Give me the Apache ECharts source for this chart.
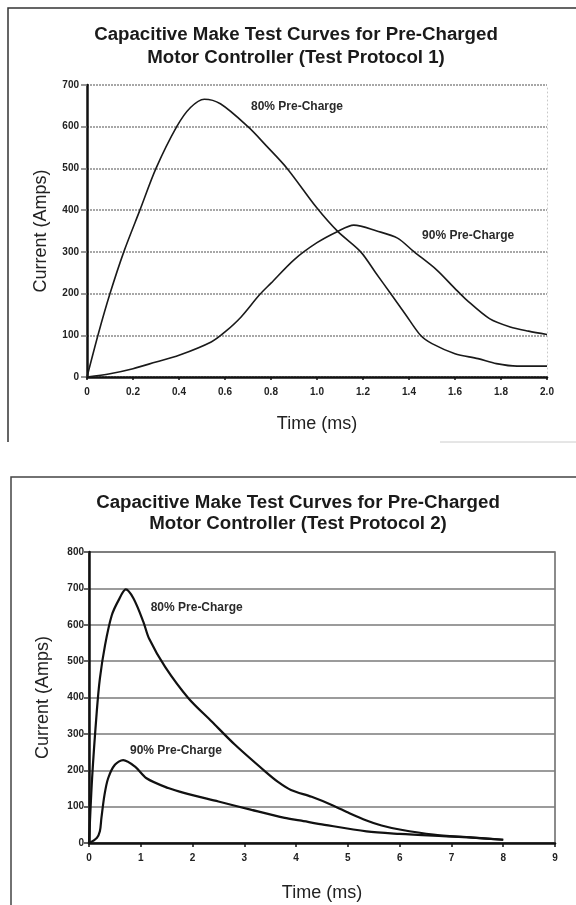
<!DOCTYPE html>
<html>
<head>
<meta charset="utf-8">
<script src="https://cdn.jsdelivr.net/npm/echarts@6/dist/echarts.min.js"></script>
<style>
html,body{margin:0;padding:0;background:#fff;}
#c{width:576px;height:905px;}
</style>
</head>
<body>
<div id="c"></div>
<script>
// ---- Test Protocol 1 ----
const title1 = 'Capacitive Make Test Curves for Pre-Charged\nMotor Controller (Test Protocol 1)';
const xTicks1 = ['0','0.2','0.4','0.6','0.8','1.0','1.2','1.4','1.6','1.8','2.0'];
const yTicks1 = ['0','100','200','300','400','500','600','700'];
const t80p1 = [0, 0.05, 0.1, 0.16, 0.23, 0.3, 0.39, 0.45, 0.51, 0.58, 0.7, 0.78, 0.87, 1.0, 1.09, 1.19, 1.255, 1.32, 1.385, 1.45, 1.5, 1.6, 1.7, 1.78, 1.87, 2.0];
const i80p1 = [0, 105, 200, 300, 400, 500, 600, 646, 666, 655, 600, 554, 500, 405, 349, 300, 250, 200, 150, 100, 80, 56, 44, 32, 26, 26];
const t90p1 = [0, 0.1, 0.2, 0.3, 0.4, 0.54, 0.6, 0.67, 0.75, 0.8, 0.9, 1.0, 1.09, 1.16, 1.26, 1.35, 1.42, 1.52, 1.6, 1.65, 1.75, 1.84, 1.92, 2.0];
const i90p1 = [0, 8, 20, 36, 52, 84, 108, 144, 197, 225, 281, 322, 349, 364, 350, 333, 301, 257, 212, 185, 140, 120, 110, 102];
const label80p1 = {text: '80% Pre-Charge', at: [0.913, 649]};
const label90p1 = {text: '90% Pre-Charge', at: [1.657, 339]};

// ---- Test Protocol 2 ----
const title2 = 'Capacitive Make Test Curves for Pre-Charged\nMotor Controller (Test Protocol 2)';
const xTicks2 = ['0','1','2','3','4','5','6','7','8','9'];
const yTicks2 = ['0','100','200','300','400','500','600','700','800'];
const t80p2 = [0, 0.06, 0.15, 0.21, 0.31, 0.44, 0.57, 0.71, 0.86, 1.05, 1.16, 1.47, 1.92, 2.37, 2.82, 3.4, 3.65, 3.9, 4.3, 4.7, 5.03, 5.36, 5.65, 6.0, 6.65, 7.29, 8.0];
const i80p2 = [0, 178, 361, 452, 544, 626, 667, 697, 672, 608, 562, 484, 398, 334, 270, 197, 168, 146, 127, 104, 82, 62, 48, 37, 23, 16, 9];
const t90p2 = [0, 0.15, 0.21, 0.24, 0.3, 0.37, 0.5, 0.66, 0.89, 1.11, 1.53, 1.85, 2.5, 3.14, 3.78, 4.07, 4.55, 5.36, 6.0, 6.65, 7.29, 8.0];
const i90p2 = [0, 14, 32, 69, 133, 178, 215, 228, 210, 178, 151, 137, 114, 91, 69, 62, 50, 32, 25, 20, 16, 9];
const label80p2 = {text: '80% Pre-Charge', at: [2.08, 647]};
const label90p2 = {text: '90% Pre-Charge', at: [1.68, 255]};

const axisNameX = 'Time (ms)';
const axisNameY = 'Current (Amps)';

const FONT = "'Liberation Sans', Arial, sans-serif";

function pairs(t, v) { return t.map((x, i) => [x, v[i]]); }
function markLabel(l) {
  return {
    symbol: 'circle', symbolSize: 1, silent: true,
    itemStyle: {color: 'rgba(0,0,0,0)'},
    label: {show: true, position: 'inside', formatter: '{b}', color: '#2a2a2a',
            fontFamily: FONT, fontWeight: 'bold', fontSize: 12},
    data: [{name: l.text, coord: l.at}]
  };
}
const tickLabel = {fontFamily: FONT, fontWeight: 'bold', fontSize: 10, color: '#222'};
const nameStyle = {fontFamily: FONT, fontSize: 18, color: '#222'};

const chart = echarts.init(document.getElementById('c'), null, {renderer: 'canvas'});
chart.setOption({
  animation: false,
  backgroundColor: '#fff',
  graphic: [
    {type: 'polyline', silent: true, shape: {points: [[8, 442], [8, 8], [576, 8]]},
     style: {stroke: '#333', lineWidth: 1.5, fill: null}},
    {type: 'line', silent: true, shape: {x1: 440, y1: 442, x2: 576, y2: 442},
     style: {stroke: '#ccc', lineWidth: 1}},
    {type: 'polyline', silent: true, shape: {points: [[11, 905], [11, 477], [576, 477]]},
     style: {stroke: '#444', lineWidth: 1.5, fill: null}},
    {type: 'text', silent: true, x: 296, y: 46.5,
     style: {text: title1, textAlign: 'center', textVerticalAlign: 'middle',
             font: "bold 18.7px 'Liberation Sans', Arial, sans-serif", lineHeight: 23, fill: '#1a1a1a'}},
    {type: 'text', silent: true, x: 298, y: 513.5,
     style: {text: title2, textAlign: 'center', textVerticalAlign: 'middle',
             font: "bold 18.7px 'Liberation Sans', Arial, sans-serif", lineHeight: 21, fill: '#1a1a1a'}}
  ],
  grid: [
    {left: 87, top: 85, width: 460, height: 292, show: false},
    {left: 89, top: 552, width: 466, height: 291, show: true, borderColor: '#666', borderWidth: 1.5}
  ],
  xAxis: [
    {type: 'value', gridIndex: 0, min: 0, max: 2, interval: 0.2,
     name: axisNameX, nameLocation: 'middle', nameGap: 38, nameTextStyle: nameStyle,
     axisLine: {lineStyle: {color: '#111', width: 2.5}},
     axisTick: {show: true, length: 3, lineStyle: {color: '#111', width: 1.5}},
     axisLabel: Object.assign({margin: 10, formatter: v => xTicks1[Math.round(v / 0.2)]}, tickLabel),
     splitLine: {show: false}},
    {type: 'value', gridIndex: 1, min: 0, max: 9, interval: 1,
     name: axisNameX, nameLocation: 'middle', nameGap: 41, nameTextStyle: nameStyle,
     axisLine: {lineStyle: {color: '#111', width: 2.5}},
     axisTick: {show: true, length: 4, lineStyle: {color: '#111', width: 1.5}},
     axisLabel: Object.assign({margin: 10, formatter: v => xTicks2[Math.round(v)]}, tickLabel),
     splitLine: {show: false}}
  ],
  yAxis: [
    {type: 'value', gridIndex: 0, min: 0, max: 700, interval: 100,
     name: axisNameY, nameLocation: 'middle', nameGap: 37, nameTextStyle: nameStyle,
     axisLine: {show: true, lineStyle: {color: '#111', width: 2.5}},
     axisTick: {show: true, length: 6, lineStyle: {color: '#777', width: 1.5}},
     axisLabel: Object.assign({margin: 8, formatter: v => yTicks1[Math.round(v / 100)]}, tickLabel),
     splitLine: {show: true, lineStyle: {color: '#8a8a8a', width: 1.5, type: [2, 1]}}},
    {type: 'value', gridIndex: 0, position: 'right', min: 0, max: 700, interval: 100,
     axisLine: {show: true, lineStyle: {color: '#c8c8c8', width: 1, type: [1, 3]}},
     axisTick: {show: false}, axisLabel: {show: false}, splitLine: {show: false}},
    {type: 'value', gridIndex: 1, min: 0, max: 800, interval: 100,
     name: axisNameY, nameLocation: 'middle', nameGap: 37, nameTextStyle: nameStyle,
     axisLine: {show: true, lineStyle: {color: '#111', width: 2.5}},
     axisTick: {show: true, length: 5, lineStyle: {color: '#333', width: 1.5}},
     axisLabel: Object.assign({margin: 5, formatter: v => yTicks2[Math.round(v / 100)]}, tickLabel),
     splitLine: {show: true, lineStyle: {color: '#7a7a7a', width: 1.5}}}
  ],
  series: [
    {type: 'line', xAxisIndex: 0, yAxisIndex: 0, data: pairs(t80p1, i80p1),
     smooth: 0.3, showSymbol: false,
     lineStyle: {color: '#1a1a1a', width: 1.6}, markPoint: markLabel(label80p1)},
    {type: 'line', xAxisIndex: 0, yAxisIndex: 0, data: pairs(t90p1, i90p1),
     smooth: 0.3, showSymbol: false,
     lineStyle: {color: '#1a1a1a', width: 1.6}, markPoint: markLabel(label90p1)},
    {type: 'line', xAxisIndex: 1, yAxisIndex: 2, data: pairs(t80p2, i80p2),
     smooth: 0.3, showSymbol: false,
     lineStyle: {color: '#111', width: 2.2}, markPoint: markLabel(label80p2)},
    {type: 'line', xAxisIndex: 1, yAxisIndex: 2, data: pairs(t90p2, i90p2),
     smooth: 0.3, showSymbol: false,
     lineStyle: {color: '#111', width: 2.2}, markPoint: markLabel(label90p2)}
  ]
});
</script>
</body>
</html>
